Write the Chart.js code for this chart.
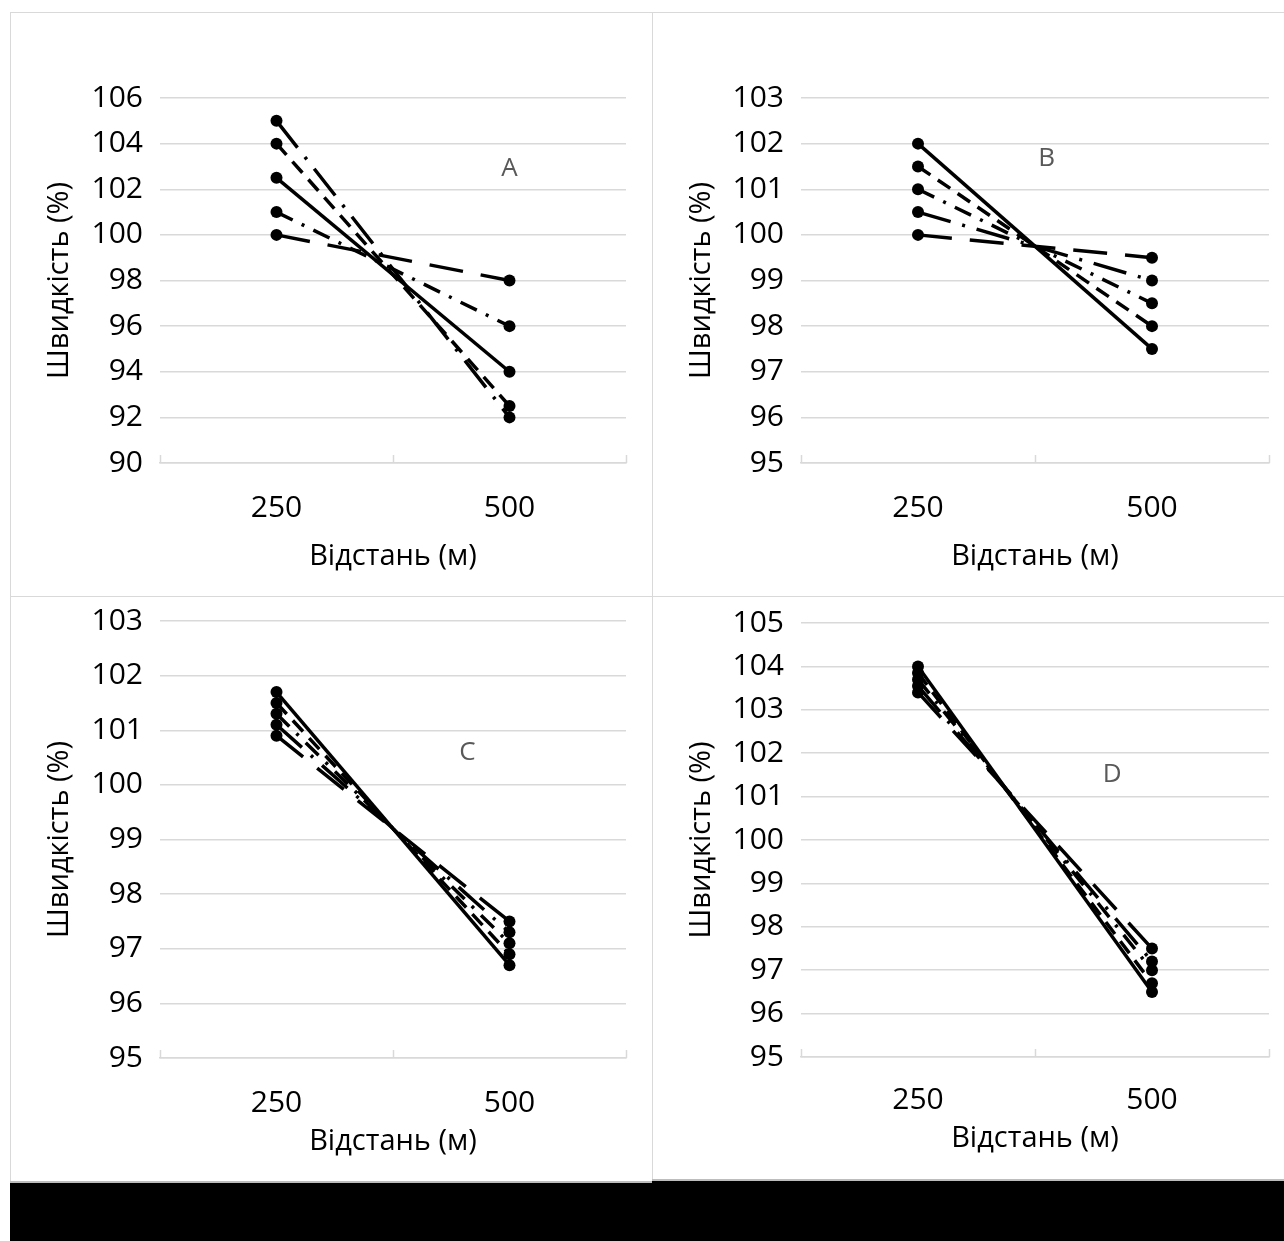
<!DOCTYPE html>
<html><head><meta charset="utf-8">
<script src="https://cdn.jsdelivr.net/npm/chart.js@4/dist/chart.umd.min.js"></script>
<style>
html,body{margin:0;padding:0;background:#fff;width:1284px;height:1241px;overflow:hidden;position:relative}
.c{position:absolute}
.ln{position:absolute;background:#d9d9d9}
.blk{position:absolute;background:#000}
canvas{display:block}
</style></head><body>
<div class="ln" style="left:10px;top:12px;width:1274px;height:1px"></div>
<div class="ln" style="left:10px;top:12px;width:1px;height:1171px"></div>
<div class="ln" style="left:652px;top:12px;width:1px;height:1169px"></div>
<div class="ln" style="left:10px;top:596px;width:1274px;height:1px"></div>
<div class="ln" style="left:10px;top:1181px;width:642px;height:2px;background:#bdbdbd"></div>
<div class="ln" style="left:652px;top:1179px;width:632px;height:2px;background:#bdbdbd"></div>
<div class="blk" style="left:10px;top:1183px;width:642px;height:58px"></div>
<div class="blk" style="left:652px;top:1181px;width:632px;height:60px"></div>
<div class="c" id="wA" style="left:11px;top:13px"><canvas id="A"></canvas></div>
<div class="c" id="wB" style="left:653px;top:13px"><canvas id="B"></canvas></div>
<div class="c" id="wC" style="left:11px;top:597px"><canvas id="C"></canvas></div>
<div class="c" id="wD" style="left:653px;top:597px"><canvas id="D"></canvas></div>
<script>
// ---------- data ----------
const categories = ['250', '500'];
const yTitle = 'Швидкість (%)';
const xTitle = 'Відстань (м)';

// Panel A
const aSolid = [102.5, 94];
const aDash = [104, 92.5];
const aDashDot = [101, 96];
const aLongDash = [100, 98];
const aLongDashDot = [105, 92];
const aYRange = [90, 106, 2];

// Panel B
const bSolid = [102, 97.5];
const bDash = [101.5, 98];
const bDashDot = [101, 98.5];
const bLongDashDot = [100.5, 99];
const bLongDash = [100, 99.5];
const bYRange = [95, 103, 1];

// Panel C
const cSolid = [101.7, 96.7];
const cDash = [101.5, 96.9];
const cDashDot = [101.3, 97.1];
const cLongDashDot = [101.1, 97.3];
const cLongDash = [100.9, 97.5];
const cYRange = [95, 103, 1];

// Panel D
const dSolid = [104.0, 96.5];
const dDash = [103.85, 96.7];
const dDashDot = [103.7, 97.0];
const dLongDashDot = [103.55, 97.2];
const dLongDash = [103.4, 97.5];
const dYRange = [95, 105, 1];

// ---------- styles ----------
const SOLID = [];
const DASH = [15, 9];
const DASH_DOT = [18, 10, 3, 10];
const LONG_DASH = [34, 18];
const LONG_DASH_DOT = [34, 12, 3, 12];
const FONT = 'Open Sans';
const TICK_SIZE = 30;
const TITLE_SIZE = 29;

const insideTicks = {
  id: 'insideTicks',
  afterDraw(chart) {
    const xs = chart.scales.x, ctx = chart.ctx, b = chart.chartArea.bottom;
    ctx.save();
    ctx.strokeStyle = '#d9d9d9';
    ctx.lineWidth = 1.5;
    for (let v = -0.5; v <= categories.length - 0.5; v += 1) {
      const px = Math.round(xs.getPixelForValue(v)) + 0.5;
      ctx.beginPath(); ctx.moveTo(px, b); ctx.lineTo(px, b - 8); ctx.stroke();
    }
    ctx.restore();
  }
};
const panelLabel = {
  id: 'panelLabel',
  afterDatasetsDraw(chart, args, opts) {
    if (!opts.text) return;
    const ctx = chart.ctx;
    ctx.save();
    ctx.fillStyle = '#595959';
    ctx.font = '26px "' + FONT + '"';
    ctx.textAlign = 'center'; ctx.textBaseline = 'middle';
    ctx.fillText(opts.text, chart.scales.x.getPixelForValue(opts.x), chart.scales.y.getPixelForValue(opts.y));
    ctx.restore();
  }
};

function ds(data, dash) {
  return {data, borderDash: dash, borderColor: '#000', backgroundColor: '#000', borderWidth: 3.5,
    pointRadius: 6, pointHoverRadius: 6, pointBackgroundColor: '#000', pointBorderWidth: 0, tension: 0};
}

function makePanel(id, page, plot, yRange, series, label, xTickCenter, xTitleCenter) {
  const w = page.w, h = page.h;
  const cv = document.getElementById(id);
  cv.width = w; cv.height = h;
  cv.style.width = w + 'px'; cv.style.height = h + 'px';
  const yAxisW = plot.l - page.l;
  const padTop = plot.t - page.t;
  const padRight = page.l + w - plot.r;
  const xAxisH = page.t + h - plot.b;
  new Chart(cv, {
    type: 'line',
    data: { labels: categories, datasets: series },
    plugins: [insideTicks, panelLabel],
    options: {
      responsive: false, animation: false, devicePixelRatio: 1,
      layout: { padding: { top: padTop, right: padRight, left: 0, bottom: 0 } },
      plugins: { legend: { display: false }, tooltip: { enabled: false }, panelLabel: label },
      scales: {
        x: {
          type: 'category', offset: true,
          grid: { display: false, drawTicks: false },
          border: { display: true, color: '#d9d9d9', width: 1.5 },
          ticks: { color: '#000', font: { family: FONT, size: TICK_SIZE }, padding: xTickCenter - 15, maxRotation: 0 },
          title: { display: true, text: xTitle, color: '#000', font: { family: FONT, size: TITLE_SIZE },
                   padding: { top: 0, bottom: (page.t + h) - xTitleCenter - TITLE_SIZE * 0.6 - 2 } },
          afterFit(s) { s.height = xAxisH; s.paddingLeft = 0; s.paddingRight = 0; }
        },
        y: {
          min: yRange[0], max: yRange[1],
          grid: { color: '#d9d9d9', lineWidth: 1.5, drawTicks: false },
          border: { display: false },
          ticks: { stepSize: yRange[2], color: '#000', font: { family: FONT, size: TICK_SIZE }, padding: 17 },
          title: { display: true, text: yTitle, color: '#000', font: { family: FONT, size: TITLE_SIZE },
                   padding: { top: 49 - TITLE_SIZE * 0.6, bottom: 0 } },
          afterFit(s) { s.width = yAxisW; s.paddingTop = 0; s.paddingBottom = 0; }
        }
      }
    }
  });
}

makePanel('A', {l: 11, t: 13, w: 641, h: 582}, {l: 160, t: 98, r: 626, b: 463}, aYRange,
  [ds(aSolid, SOLID), ds(aDash, DASH), ds(aDashDot, DASH_DOT), ds(aLongDash, LONG_DASH), ds(aLongDashDot, LONG_DASH_DOT)],
  {text: 'A', x: 1.0, y: 102.9}, 42, 555);
makePanel('B', {l: 653, t: 13, w: 631, h: 582}, {l: 801, t: 98, r: 1269, b: 463}, bYRange,
  [ds(bSolid, SOLID), ds(bDash, DASH), ds(bDashDot, DASH_DOT), ds(bLongDashDot, LONG_DASH_DOT), ds(bLongDash, LONG_DASH)],
  {text: 'B', x: 0.55, y: 101.68}, 42, 555);
makePanel('C', {l: 11, t: 597, w: 641, h: 584}, {l: 160, t: 621, r: 626, b: 1058}, cYRange,
  [ds(cSolid, SOLID), ds(cDash, DASH), ds(cDashDot, DASH_DOT), ds(cLongDashDot, LONG_DASH_DOT), ds(cLongDash, LONG_DASH)],
  {text: 'C', x: 0.82, y: 100.6}, 42, 1140);
makePanel('D', {l: 653, t: 597, w: 631, h: 582}, {l: 801, t: 623, r: 1269, b: 1057}, dYRange,
  [ds(dSolid, SOLID), ds(dDash, DASH), ds(dDashDot, DASH_DOT), ds(dLongDashDot, LONG_DASH_DOT), ds(dLongDash, LONG_DASH)],
  {text: 'D', x: 0.83, y: 101.5}, 40, 1137);
</script>
</body></html>
